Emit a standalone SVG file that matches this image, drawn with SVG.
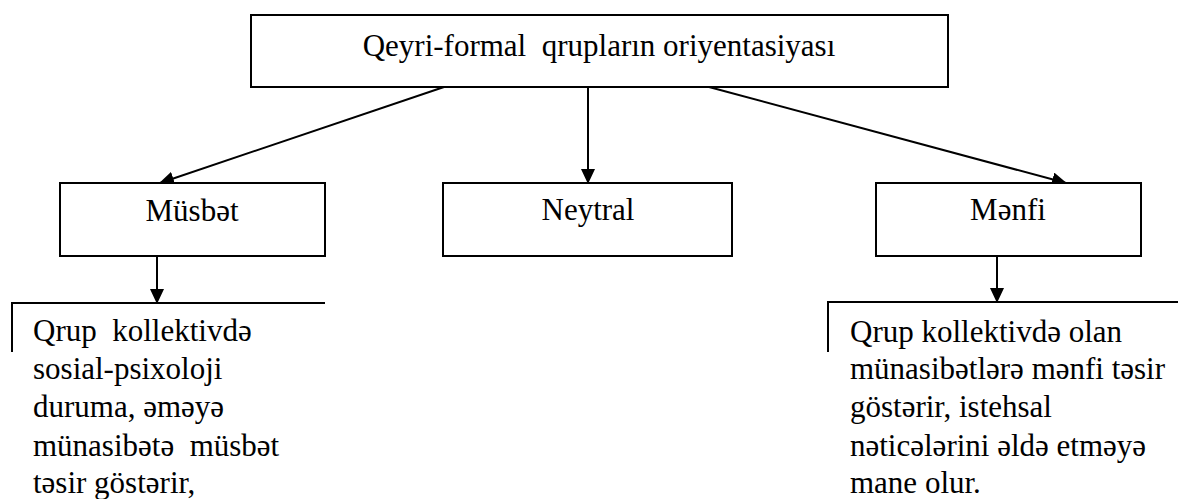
<svg xmlns="http://www.w3.org/2000/svg" width="1178" height="499" viewBox="0 0 1178 499">
<style>
.box{fill:#fff;stroke:#000;stroke-width:2}
.ln{fill:none;stroke:#000;stroke-width:2}
.t{font-family:'Liberation Serif','Times New Roman',serif;font-size:31px;fill:#000}
.c{text-anchor:middle}
</style>
<defs>
<marker id="ah" markerWidth="15" markerHeight="14" refX="14" refY="7" orient="auto" markerUnits="userSpaceOnUse">
<path d="M0,0 L15,7 L0,14 Z" fill="#000"/>
</marker>
</defs>
<rect width="1178" height="499" fill="#fff"/>
<g id="connectors">
<line class="ln" x1="444" y1="87" x2="160" y2="183" marker-end="url(#ah)"/>
<line class="ln" x1="588" y1="87" x2="588" y2="183" marker-end="url(#ah)"/>
<line class="ln" x1="709" y1="87" x2="1066" y2="183" marker-end="url(#ah)"/>
<line class="ln" x1="157" y1="256" x2="157" y2="303" marker-end="url(#ah)"/>
<line class="ln" x1="997" y1="256" x2="997" y2="302" marker-end="url(#ah)"/>
</g>
<g id="top">
<rect class="box" x="251" y="15" width="697" height="72"/>
<text class="t c" x="599" y="56" xml:space="preserve">Qeyri-formal  qrupların oriyentasiyası</text>
</g>
<g id="musbet">
<rect class="box" x="60" y="183" width="265" height="73"/>
<text class="t c" x="192" y="221">Müsbət</text>
</g>
<g id="neytral">
<rect class="box" x="443" y="183" width="289" height="73"/>
<text class="t c" x="588" y="220">Neytral</text>
</g>
<g id="menfi">
<rect class="box" x="876" y="183" width="265" height="73"/>
<text class="t c" x="1008" y="220">Mənfi</text>
</g>
<g id="musbet-desc">
<path class="ln" d="M12,352 V303 H325"/>
<text class="t" x="33" y="341" xml:space="preserve">Qrup  kollektivdə</text>
<text class="t" x="33" y="379">sosial-psixoloji</text>
<text class="t" x="33" y="417">duruma, əməyə</text>
<text class="t" x="33" y="456" xml:space="preserve">münasibətə  müsbət</text>
<text class="t" x="33" y="493">təsir göstərir,</text>
</g>
<g id="menfi-desc">
<path class="ln" d="M828,352 V302 H1178"/>
<text class="t" x="850" y="342">Qrup kollektivdə olan</text>
<text class="t" x="850" y="379">münasibətlərə mənfi təsir</text>
<text class="t" x="850" y="417">göstərir, istehsal</text>
<text class="t" x="850" y="456">nəticələrini əldə etməyə</text>
<text class="t" x="850" y="493">mane olur.</text>
</g>
</svg>
